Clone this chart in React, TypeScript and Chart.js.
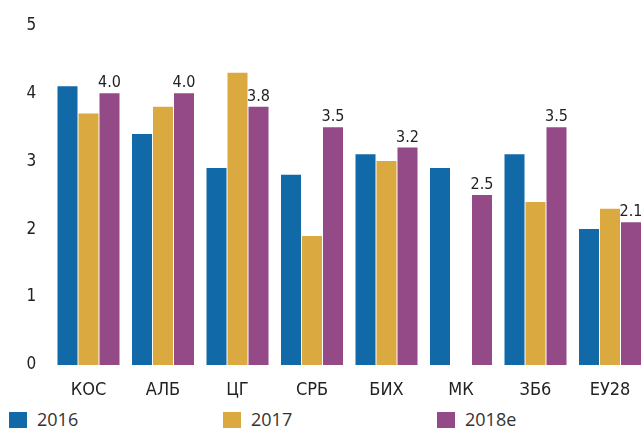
import React, { useEffect, useRef } from "react";
import { Chart, registerables } from "chart.js";

Chart.register(...registerables);

const categories = ["КОС", "АЛБ", "ЦГ", "СРБ", "БИХ", "МК", "ЗБ6", "ЕУ28"];
const series2016 = [4.1, 3.4, 2.9, 2.8, 3.1, 2.9, 3.1, 2.0];
const series2017 = [3.7, 3.8, 4.3, 1.9, 3.0, null, 2.4, 2.3];
const series2018e = [4.0, 4.0, 3.8, 3.5, 3.2, 2.5, 3.5, 2.1];
const seriesLabels = ["2016", "2017", "2018e"];
const seriesColors = ["#1169A8", "#DAA940", "#944A86"];
const yMin = 0;
const yMax = 5;
const yStep = 1;

const NARROW = "'Liberation Sans Narrow', 'DejaVu Sans Condensed', sans-serif";

const valueLabelPlugin = {
  id: "valueLabels",
  afterDatasetsDraw(chart: any) {
    const ctx = chart.ctx;
    const dsIndex = 2;
    const meta = chart.getDatasetMeta(dsIndex);
    const data = chart.data.datasets[dsIndex].data;
    ctx.save();
    ctx.font = `16px ${NARROW}`;
    ctx.fillStyle = "#222222";
    ctx.textAlign = "center";
    ctx.textBaseline = "alphabetic";
    meta.data.forEach((bar: any, i: number) => {
      const v = data[i];
      if (v === null || v === undefined) return;
      ctx.fillText(Number(v).toFixed(1), bar.x, bar.y - 6);
    });
    ctx.restore();
  },
};

export default function App() {
  const canvasRef = useRef<HTMLCanvasElement | null>(null);

  useEffect(() => {
    if (!canvasRef.current) return;
    const seriesData = [series2016, series2017, series2018e];
    const chart = new Chart(canvasRef.current, {
      type: "bar",
      data: {
        labels: categories,
        datasets: seriesLabels.map((label, i) => ({
          label,
          data: seriesData[i],
          backgroundColor: seriesColors[i],
          borderWidth: 0,
          barPercentage: 20 / 21,
          categoryPercentage: 63 / 74.5,
        })),
      },
      options: {
        animation: false,
        responsive: false,
        maintainAspectRatio: false,
        devicePixelRatio: 1,
        layout: { padding: { top: 22.5, left: 0, right: 22.75, bottom: 0 } },
        plugins: {
          legend: { display: false },
          tooltip: { enabled: false },
          title: { display: false },
        },
        scales: {
          x: {
            grid: { display: false, drawTicks: false },
            border: { display: false },
            ticks: {
              padding: 15,
              color: "#222222",
              font: { family: NARROW, size: 18 },
              maxRotation: 0,
              autoSkip: false,
            },
            afterFit: (s: any) => {
              s.height = 35;
            },
          },
          y: {
            min: yMin,
            max: yMax,
            grid: { display: false, drawTicks: false },
            border: { display: false },
            ticks: {
              stepSize: yStep,
              padding: 15,
              color: "#222222",
              font: { family: NARROW, size: 17 },
            },
            afterFit: (s: any) => {
              s.width = 51.25;
            },
          },
        },
      },
      plugins: [valueLabelPlugin],
    });
    return () => chart.destroy();
  }, []);

  const legendLefts = [9, 223, 437];

  return (
    <div
      style={{
        position: "fixed",
        left: 0,
        top: 0,
        width: 641,
        height: 428,
        overflow: "hidden",
        background: "#ffffff",
      }}
    >
      <canvas
        ref={canvasRef}
        width={670}
        height={400}
        style={{ position: "absolute", left: 0, top: 0, width: 670, height: 400 }}
      />
      {seriesLabels.map((label, i) => (
        <div
          key={label}
          style={{
            position: "absolute",
            left: legendLefts[i],
            top: 410,
            display: "flex",
            alignItems: "flex-start",
            whiteSpace: "nowrap",
          }}
        >
          <div
            style={{
              width: 18,
              height: 18,
              marginTop: 2,
              background: seriesColors[i],
            }}
          />
          <span
            style={{
              marginLeft: 10,
              fontFamily: "'Open Sans', sans-serif",
              fontSize: 18,
              lineHeight: "18px",
              color: "#333333",
            }}
          >
            {label}
          </span>
        </div>
      ))}
    </div>
  );
}
